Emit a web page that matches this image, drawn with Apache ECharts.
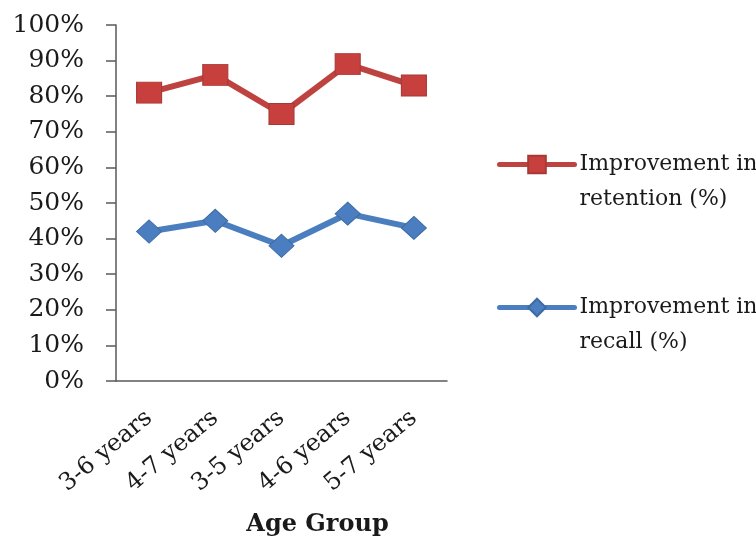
<!DOCTYPE html>
<html>
<head>
<meta charset="utf-8">
<script src="https://cdn.jsdelivr.net/npm/echarts@6/dist/echarts.min.js"></script>
<style>html,body{margin:0;padding:0;background:#fff}#c{width:756px;height:542px}</style>
</head>
<body>
<div id="c"></div>
<script>
const categories = ['3-6 years', '4-7 years', '3-5 years', '4-6 years', '5-7 years'];
const retention = [81, 86, 75, 89, 83];
const recall = [42, 45, 38, 47, 43];
const seriesNames = ['Improvement in retention (%)', 'Improvement in recall (%)'];
const xAxisTitle = 'Age Group';

const chart = echarts.init(document.getElementById('c'));
const axisColor = '#595959';
chart.setOption({
  backgroundColor: '#fff',
  animation: false,
  grid: { left: 116, right: 309, top: 25, bottom: 159 },
  xAxis: {
    type: 'category',
    data: categories,
    boundaryGap: true,
    axisLine: { lineStyle: { color: axisColor, width: 1.5 } },
    axisTick: { length: 10, lineStyle: { color: axisColor, width: 1.5 } },
    axisLabel: { rotate: 40, margin: 34, fontFamily: 'DejaVu Serif', fontSize: 24, color: '#1a1a1a' },
    name: xAxisTitle,
    nameLocation: 'middle',
    nameGap: 132,
    nameTextStyle: { fontFamily: 'DejaVu Serif', fontWeight: 'bold', fontSize: 24, color: '#1a1a1a', padding: [0, 0, 0, 72] }
  },
  yAxis: {
    type: 'value',
    min: 0, max: 100, interval: 10,
    splitLine: { show: false },
    axisLine: { show: true, lineStyle: { color: axisColor, width: 1.5 } },
    axisTick: { show: true, length: 10, lineStyle: { color: axisColor, width: 1.5 } },
    axisLabel: { formatter: '{value}%', margin: 32, fontFamily: 'DejaVu Serif', fontSize: 25, color: '#1a1a1a' }
  },
  legend: {
    orient: 'vertical',
    left: 497,
    top: 112,
    padding: 0,
    itemWidth: 75,
    itemHeight: 22,
    itemGap: 38,
    lineStyle: { width: 5, cap: 'round' },
    formatter: n => '\n' + n.replace(' in ', ' in\n'),
    textStyle: { fontFamily: 'DejaVu Serif', fontSize: 22, color: '#1a1a1a', lineHeight: 35 },
    data: seriesNames
  },
  series: [
    {
      name: seriesNames[0], type: 'line', data: retention,
      symbol: 'rect', symbolSize: [25, 21],
      lineStyle: { color: '#BE4340', width: 6 },
      itemStyle: { color: '#C8403D', borderColor: '#A63936', borderWidth: 1 }
    },
    {
      name: seriesNames[1], type: 'line', data: recall,
      symbol: 'diamond', symbolSize: [25, 23],
      lineStyle: { color: '#4A7EBE', width: 6 },
      itemStyle: { color: '#4A7EC0', borderColor: '#3D6BA3', borderWidth: 1 }
    }
  ]
});
</script>
</body>
</html>
